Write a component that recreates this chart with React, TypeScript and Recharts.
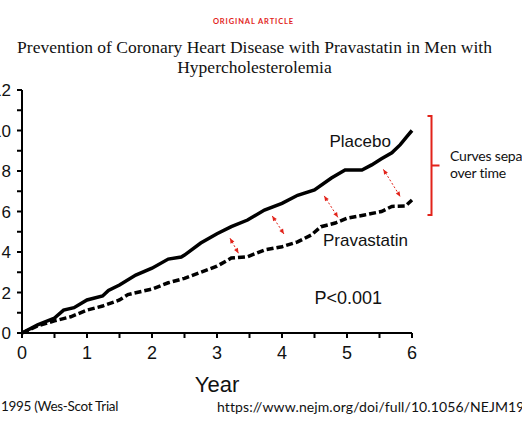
import React from 'react';
import { LineChart, Line, XAxis, YAxis, ReferenceLine, ReferenceDot } from 'recharts';

// cumulative % with coronary event
const placeboYears = [0, 0.24, 0.5, 0.64, 0.8, 1.0, 1.24, 1.33, 1.5, 1.75, 2.0, 2.25, 2.45, 2.5, 2.75, 3.0, 3.22, 3.47, 3.73, 4.0, 4.24, 4.5, 4.76, 4.97, 5.23, 5.38, 5.53, 5.69, 5.82, 5.92, 6.0];
const placeboRates = [0, 0.4, 0.74, 1.13, 1.25, 1.63, 1.83, 2.1, 2.37, 2.86, 3.2, 3.65, 3.75, 3.85, 4.44, 4.9, 5.25, 5.58, 6.07, 6.4, 6.8, 7.06, 7.65, 8.05, 8.05, 8.3, 8.6, 8.9, 9.3, 9.7, 10.0];

const pravaYears = [0, 0.24, 0.5, 0.75, 1.0, 1.24, 1.5, 1.63, 2.0, 2.25, 2.5, 2.75, 3.0, 3.22, 3.47, 3.73, 4.0, 4.24, 4.45, 4.6, 4.82, 5.0, 5.27, 5.53, 5.69, 5.9, 6.0];
const pravaRates = [0, 0.35, 0.6, 0.8, 1.13, 1.33, 1.63, 1.9, 2.17, 2.48, 2.7, 3.0, 3.3, 3.7, 3.77, 4.1, 4.26, 4.5, 4.84, 5.25, 5.43, 5.67, 5.83, 6.0, 6.25, 6.27, 6.57];

const xTicks = [0, 0.5, 1, 1.5, 2, 2.5, 3, 3.5, 4, 4.5, 5, 5.5, 6];
const yTicks = [0, 1, 2, 3, 4, 5, 6, 7, 8, 9, 10, 11, 12];

// red "gap" arrows between the curves: [year1, rate1, year2, rate2]
const gapArrows = [
  [3.2, 4.68, 3.33, 3.94],
  [3.85, 5.78, 4.03, 4.89],
  [4.65, 6.77, 4.86, 5.71],
  [5.56, 8.08, 5.82, 6.73],
];

// bracket on the right, spanning the two end values
const bracketYear = 6.3;
const bracketTop = 10.72;
const bracketBottom = 5.83;

const curveLabels = [
  { text: 'Placebo', year: 4.73, rate: 9.19, size: 17 },
  { text: 'Pravastatin', year: 4.63, rate: 4.3, size: 17 },
  { text: 'P<0.001', year: 4.5, rate: 1.43, size: 18 },
];

const placeboData = placeboYears.map((year, i) => ({ year, rate: placeboRates[i] }));
const pravaData = pravaYears.map((year, i) => ({ year, rate: pravaRates[i] }));

const RED = '#e2231a';
const SANS = '"Liberation Sans", Arial, sans-serif';

const DottedArrow = (props: any) => {
  const { x1, y1, x2, y2 } = props;
  const ang = Math.atan2(y2 - y1, x2 - x1);
  const head = (x: number, y: number, a: number) => {
    const l = 5;
    const w = 2.2;
    const bx = x - l * Math.cos(a);
    const by = y - l * Math.sin(a);
    const px = -Math.sin(a) * w;
    const py = Math.cos(a) * w;
    return `${x},${y} ${bx + px},${by + py} ${bx - px},${by - py}`;
  };
  return (
    <g>
      <line x1={x1} y1={y1} x2={x2} y2={y2} stroke={RED} strokeWidth={1} strokeDasharray="2 2" />
      <polygon points={head(x2, y2, ang)} fill={RED} />
      <polygon points={head(x1, y1, ang + Math.PI)} fill={RED} />
    </g>
  );
};

const Bracket = (props: any) => {
  const { x1, y1, y2 } = props;
  const mid = (y1 + y2) / 2;
  return (
    <path
      d={`M ${x1 - 4} ${y1} L ${x1} ${y1} L ${x1} ${y2} L ${x1 - 4} ${y2} M ${x1} ${mid} L ${x1 + 8} ${mid}`}
      stroke={RED}
      strokeWidth={2}
      fill="none"
    />
  );
};

export default function App() {
  return (
    <div style={{ position: 'absolute', left: 0, top: 0, width: 522, height: 436, overflow: 'hidden', background: '#fff' }}>
      <div
        style={{
          position: 'absolute', top: 17, left: 0, width: 507, textAlign: 'center',
          color: RED, fontFamily: 'Lato, sans-serif', fontWeight: 700, fontSize: 7.5, letterSpacing: 0.9,
        }}
      >
        ORIGINAL ARTICLE
      </div>
      <div
        style={{
          position: 'absolute', top: 37, left: 0, width: 509, textAlign: 'center',
          fontFamily: '"Liberation Serif", serif', fontSize: 17.5, lineHeight: '20px', color: '#111',
        }}
      >
        Prevention of Coronary Heart Disease with Pravastatin in Men with<br />Hypercholesterolemia
      </div>

      <LineChart
        width={560}
        height={400}
        margin={{ top: 90, right: 108, bottom: 0, left: 0 }}
        style={{ position: 'absolute', left: -40, top: 0 }}
      >
        <XAxis
          type="number"
          dataKey="year"
          domain={[0, 6]}
          ticks={xTicks}
          tickFormatter={(v: number) => (Number.isInteger(v) ? String(v) : '')}
          height={67}
          tickSize={5}
          tickMargin={8}
          axisLine={{ stroke: '#000', strokeWidth: 2 }}
          tickLine={{ stroke: '#000', strokeWidth: 2 }}
          tick={{ fill: '#111', fontSize: 18, fontFamily: SANS }}
          label={{ value: 'Year', position: 'insideBottom', offset: 8, fill: '#111', fontSize: 22, fontFamily: SANS }}
          allowDuplicatedCategory={false}
        />
        <YAxis
          type="number"
          domain={[0, 12]}
          ticks={yTicks}
          tickFormatter={(v: number) => (v % 2 === 0 ? String(v) : '')}
          width={62}
          tickSize={5}
          tickMargin={6}
          axisLine={{ stroke: '#000', strokeWidth: 2 }}
          tickLine={{ stroke: '#000', strokeWidth: 2 }}
          tick={{ fill: '#111', fontSize: 17, fontFamily: SANS }}
        />
        <Line
          data={placeboData}
          dataKey="rate"
          type="linear"
          stroke="#000"
          strokeWidth={3.5}
          dot={false}
          isAnimationActive={false}
        />
        <Line
          data={pravaData}
          dataKey="rate"
          type="linear"
          stroke="#000"
          strokeWidth={3.5}
          strokeDasharray="7 3"
          dot={false}
          isAnimationActive={false}
        />
        {gapArrows.map((a, i) => (
          <ReferenceLine
            key={`gap-${i}`}
            segment={[{ x: a[0], y: a[1] }, { x: a[2], y: a[3] }]}
            ifOverflow="visible"
            shape={DottedArrow}
          />
        ))}
        <ReferenceLine
          segment={[{ x: bracketYear, y: bracketTop }, { x: bracketYear, y: bracketBottom }]}
          ifOverflow="visible"
          shape={Bracket}
        />
        {curveLabels.map((l) => (
          <ReferenceDot
            key={l.text}
            x={l.year}
            y={l.rate}
            r={0}
            ifOverflow="visible"
            shape={(p: any) => (
              <text x={p.cx} y={p.cy} fontSize={l.size} fontFamily={SANS} fill="#111">
                {l.text}
              </text>
            )}
          />
        ))}
      </LineChart>

      <div
        style={{
          position: 'absolute', left: 450, top: 147, whiteSpace: 'nowrap',
          fontFamily: 'Lato, sans-serif', fontSize: 14, letterSpacing: -0.2, lineHeight: '17px', color: '#111',
        }}
      >
        Curves separate<br />over time
      </div>
      <div
        style={{
          position: 'absolute', left: 1, top: 398, whiteSpace: 'nowrap',
          fontFamily: 'Lato, sans-serif', fontSize: 13.5, letterSpacing: -0.3, color: '#111',
        }}
      >
        1995 (Wes-Scot Trial
      </div>
      <div
        style={{
          position: 'absolute', left: 217, top: 398, whiteSpace: 'nowrap',
          fontFamily: 'Lato, sans-serif', fontSize: 14, letterSpacing: 0.1, color: '#111',
        }}
      >
        https://www.nejm.org/doi/full/10.1056/NEJM199511163332001
      </div>
    </div>
  );
}
